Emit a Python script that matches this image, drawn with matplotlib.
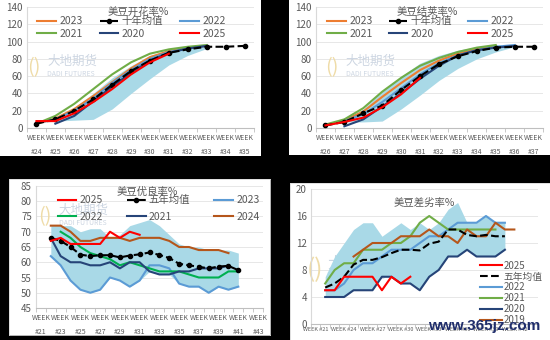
import matplotlib.pyplot as plt
import numpy as np

plt.rcParams['font.family'] = ['Noto Sans CJK SC', 'DejaVu Sans']

W, H = 550, 340

# ---- 美豆开花率% (WEEK #24 - #35)
bloom_weeks = list(range(24, 36))
bloom_2023 = [5, 11, 22, 37, 53, 69, 82, 89, 93, 95]
bloom_avg = [5, 10, 20, 33, 50, 66, 78, 87, 91, 94, 94, 95]
bloom_2022 = [6, 10, 20, 34, 52, 67, 80, 88, 92, 95]
bloom_2021 = [5, 14, 28, 45, 62, 76, 86, 91, 94, 96]
bloom_2020 = [5, 14, 31, 48, 64, 78, 87, 92, 95]      # from #25
bloom_2025 = [8, 8, 17, 30, 45, 62, 76, 86]
bloom_lo = [6, 8, 9, 10, 22, 40, 57, 73, 84, 92]
bloom_hi = [8, 12, 24, 40, 58, 72, 84, 90, 94, 96]

# ---- 美豆结荚率% (WEEK #26 - #37)
pod_weeks = list(range(26, 38))
pod_2023 = [3, 9, 19, 36, 52, 67, 78, 86, 91, 95]
pod_avg = [3, 7, 17, 26, 44, 60, 74, 83, 89, 93, 94, 94]
pod_2022 = [3, 8, 16, 30, 46, 62, 75, 84, 90, 94, 96]
pod_2021 = [4, 10, 23, 42, 58, 72, 81, 88, 93, 96]
pod_2020 = [2, 10, 25, 40, 57, 72, 84, 90, 93, 95]     # from #27
pod_2025 = [3, 7, 12, 24, 39, 58]
pod_lo = [3, 7, 7, 8, 22, 38, 55, 69, 80, 88, 94]
pod_hi = [5, 10, 22, 42, 60, 75, 84, 90, 94, 96, 96]

# ---- 美豆优良率% (WEEK #21 - #43), series start at #22
good_weeks = list(range(21, 44))
good_2025 = [67, 68, 66, 66, 66, 66, 70, 68, 70, 69]
good_avg = [68, 67, 65, 62.5, 62, 62.3, 62.3, 61.6, 62.2, 62.6,
            63.2, 62.4, 61.4, 59.5, 59, 58.5, 58, 58.6, 58.8, 57.4]
good_2023 = [62, 59, 54, 51, 50, 51, 55, 54, 52, 54,
             59, 59, 58, 53, 52, 52, 50, 52, 51, 52]
good_2022 = [70, 68, 65, 63, 62, 61, 59, 60, 59, 58,
             57, 57, 57, 56, 55, 55, 55, 57, 57]          # from #23
good_2021 = [68, 62, 60, 60, 59, 59, 60, 58, 60, 60,
             57, 56, 56, 57, 57, 58, 58, 58, 59]
good_2024 = [72, 72, 70, 67, 67, 68, 68, 68, 67, 68,
             68, 68, 67, 65, 65, 64, 64, 64, 63]
good_lo = [62, 59, 54, 51, 50, 51, 55, 54, 52, 54,
           57, 56, 56, 53, 52, 52, 50, 52, 51, 52]
good_hi = [72, 72, 72, 70, 71, 71, 68, 69, 72, 73,
           74, 72, 69, 66, 65, 65, 64, 64, 64, 63]

# ---- 美豆差劣率% (WEEK #21 - #44), series start at #22
poor_weeks = list(range(21, 45))
poor_2025 = [5, 5, 7, 7, 7, 7, 5, 7, 6, 7]
poor_avg = [5.4, 6, 7, 8.8, 9.5, 9.5, 9.9, 10.5, 11, 11,
            10.9, 11.9, 12.2, 14, 14, 13.2, 13, 13.2, 13, 13]
poor_2022 = [5, 5, 6, 8, 9, 9, 10, 11, 11, 11,
             12, 13, 13, 14, 15, 15, 15, 16, 15, 15]
poor_2021 = [6, 8, 9, 9, 11, 11, 11, 12, 12, 13,
             15, 16, 15, 14, 14, 14, 14, 14, 14]
poor_2020 = [4, 4, 4, 5, 5, 5, 7, 7, 6, 6,
             5, 7, 8, 10, 10, 11, 10, 10, 10, 11]
poor_2019 = [10, 11, 12, 12, 12, 13, 13, 13, 14, 13,
             13, 12, 14, 13, 13, 15, 14, 14]               # from #25
poor_lo = [4, 4, 4, 5, 5, 5, 7, 7, 6, 6,
           5, 7, 8, 10, 10, 11, 10, 10, 10, 11]
poor_hi = [7, 10, 12, 14, 15, 15, 13, 14, 15, 14,
           15, 14, 15, 17, 18, 15, 15, 16, 15, 15]

C_ORANGE = '#ed7d31'
C_LBLUE = '#5b9bd5'
C_GREEN = '#70ad47'
C_NAVY = '#264478'
C_RED = '#ff0000'
C_BAND = '#a9d9e7'
C_BROWN = '#b5561b'
C_GREEN2 = '#00b050'
GRAY = '#595959'


def pad(vals, start, n):
    out = np.full(n, np.nan)
    out[start:start + len(vals)] = vals
    return out


def px_axes(fig, x0, y0, x1, y1):
    return fig.add_axes([x0 / W, 1 - y1 / H, (x1 - x0) / W, (y1 - y0) / H])


def panel(fig, x0, y0, x1, y1, border=False):
    bg = px_axes(fig, x0, y0, x1, y1)
    bg.set_facecolor('white')
    bg.set_xticks([])
    bg.set_yticks([])
    for s in bg.spines.values():
        s.set_visible(border)
        s.set_color('#d9d9d9')
        s.set_linewidth(0.6)
    return bg


def style(ax, n, ylim, yticks):
    ax.set_facecolor('none')
    ax.set_xlim(-0.5, n - 0.5)
    ax.set_ylim(*ylim)
    ax.set_yticks(yticks)
    for s in ['top', 'right']:
        ax.spines[s].set_visible(False)
    ax.spines['left'].set_color('#d9d9d9')
    ax.spines['bottom'].set_color('#bfbfbf')
    ax.spines['left'].set_linewidth(0.8)
    ax.spines['bottom'].set_linewidth(0.8)
    ax.grid(axis='y', color='#e3e3e3', lw=0.6)
    ax.set_axisbelow(True)
    ax.tick_params(axis='y', length=0, labelsize=7, labelcolor=GRAY, pad=3)
    ax.tick_params(axis='x', length=0, labelcolor=GRAY, pad=4)
    ax.set_xticks(np.arange(n + 1) - 0.5, minor=True)
    ax.tick_params(axis='x', which='minor', length=3, color='#bfbfbf')


def logo(ax, x, y, size=9):
    ax.text(x, y, '大地期货', transform=ax.transAxes, fontsize=size,
            color='#cdd6e2', ha='left', va='center', zorder=1)
    ax.text(x, y - 0.1, 'DADI FUTURES', transform=ax.transAxes,
            fontsize=size * 0.55, color='#cdd6e2', ha='left', va='center', zorder=1)
    ax.text(x - 0.09, y - 0.05, '()', transform=ax.transAxes, fontsize=size * 1.6,
            color='#efdca8', ha='left', va='center', zorder=1)


def week_labels(weeks):
    return ['WEEK\n#%d' % w for w in weeks]


fig = plt.figure(figsize=(5.5, 3.4), dpi=100, facecolor='black')

# ================= 开花率
panel(fig, 0, 0, 261, 156)
ax = px_axes(fig, 27, 7, 254, 128)
n = len(bloom_weeks)
x = np.arange(n)
style(ax, n, (0, 140), range(0, 141, 20))
ax.set_xticks(x)
ax.set_xticklabels(week_labels(bloom_weeks), fontsize=5, linespacing=2.1)
logo(ax, 0.09, 0.55)
ax.fill_between(x, pad(bloom_lo, 0, n), pad(bloom_hi, 0, n), color=C_BAND, lw=0, zorder=2)
h23, = ax.plot(x, pad(bloom_2023, 0, n), color=C_ORANGE, lw=1.5, zorder=3)
h22, = ax.plot(x, pad(bloom_2022, 0, n), color=C_LBLUE, lw=1.5, zorder=3)
h21, = ax.plot(x, pad(bloom_2021, 0, n), color=C_GREEN, lw=1.5, zorder=3)
h20, = ax.plot(x, pad(bloom_2020, 1, n), color=C_NAVY, lw=1.5, zorder=4)
hav, = ax.plot(x, pad(bloom_avg, 0, n), color='black', lw=1.5, ls='--', marker='o',
               ms=3, zorder=5)
h25, = ax.plot(x, pad(bloom_2025, 0, n), color=C_RED, lw=1.5, zorder=6)
ax.text(0.49, 0.955, '美豆开花率%', transform=ax.transAxes, ha='center', va='center',
        fontsize=7.5, color=GRAY)
ax.legend([h23, h21, hav, h20, h22, h25], ['2023', '2021', '十年均值', '2020', '2022', '2025'],
          ncol=3, loc='upper left', bbox_to_anchor=(0.045, 0.0, 0.83, 0.925),
          mode='expand', frameon=False, fontsize=7.5, handlelength=1.8,
          handletextpad=0.3, labelspacing=0.25, borderpad=0, borderaxespad=0,
          labelcolor=GRAY)

# ================= 结荚率
panel(fig, 289, 0, 550, 155)
ax = px_axes(fig, 316, 7, 543, 128)
n = len(pod_weeks)
x = np.arange(n)
style(ax, n, (0, 140), range(0, 141, 20))
ax.set_xticks(x)
ax.set_xticklabels(week_labels(pod_weeks), fontsize=5, linespacing=2.1)
logo(ax, 0.13, 0.55)
ax.fill_between(x, pad(pod_lo, 0, n), pad(pod_hi, 0, n), color=C_BAND, lw=0, zorder=2)
h23, = ax.plot(x, pad(pod_2023, 0, n), color=C_ORANGE, lw=1.5, zorder=3)
h22, = ax.plot(x, pad(pod_2022, 0, n), color=C_LBLUE, lw=1.5, zorder=3)
h21, = ax.plot(x, pad(pod_2021, 0, n), color=C_GREEN, lw=1.5, zorder=3)
h20, = ax.plot(x, pad(pod_2020, 1, n), color=C_NAVY, lw=1.5, zorder=4)
hav, = ax.plot(x, pad(pod_avg, 0, n), color='black', lw=1.5, ls='--', marker='o',
               ms=3, zorder=5)
h25, = ax.plot(x, pad(pod_2025, 0, n), color=C_RED, lw=1.5, zorder=6)
ax.text(0.49, 0.955, '美豆结荚率%', transform=ax.transAxes, ha='center', va='center',
        fontsize=7.5, color=GRAY)
ax.legend([h23, h21, hav, h20, h22, h25], ['2023', '2021', '十年均值', '2020', '2022', '2025'],
          ncol=3, loc='upper left', bbox_to_anchor=(0.05, 0.0, 0.82, 0.925),
          mode='expand', frameon=False, fontsize=7.5, handlelength=1.8,
          handletextpad=0.3, labelspacing=0.25, borderpad=0, borderaxespad=0,
          labelcolor=GRAY)

# ================= 优良率
panel(fig, 9, 179, 270, 335, border=True)
ax = px_axes(fig, 36, 186, 263, 308)
n = len(good_weeks)
x = np.arange(n)
style(ax, n, (45, 85), range(45, 86, 5))
ax.set_xticks(x)
ax.set_xticklabels([('WEEK\n#%d' % w) if (w - 21) % 2 == 0 else '' for w in good_weeks],
                   fontsize=5, linespacing=2.1)
logo(ax, 0.1, 0.8)
ax.fill_between(x, pad(good_lo, 1, n), pad(good_hi, 1, n), color=C_BAND, lw=0, zorder=2)
h23, = ax.plot(x, pad(good_2023, 1, n), color=C_LBLUE, lw=1.5, zorder=3)
h22, = ax.plot(x, pad(good_2022, 2, n), color=C_GREEN2, lw=1.5, zorder=3)
h21, = ax.plot(x, pad(good_2021, 1, n), color=C_NAVY, lw=1.5, zorder=3)
h24, = ax.plot(x, pad(good_2024, 1, n), color=C_BROWN, lw=1.5, zorder=3)
hav, = ax.plot(x, pad(good_avg, 1, n), color='black', lw=1.5, ls='--', marker='o',
               ms=3, zorder=5)
h25, = ax.plot(x, pad(good_2025, 1, n), color=C_RED, lw=1.5, zorder=6)
ax.text(0.49, 0.955, '美豆优良率%', transform=ax.transAxes, ha='center', va='center',
        fontsize=7.5, color=GRAY)
ax.legend([h25, h22, hav, h21, h23, h24], ['2025', '2022', '五年均值', '2021', '2023', '2024'],
          ncol=3, loc='upper left', bbox_to_anchor=(0.095, 0.0, 0.89, 0.925),
          mode='expand', frameon=False, fontsize=7.5, handlelength=1.8,
          handletextpad=0.3, labelspacing=0.6, borderpad=0, borderaxespad=0,
          labelcolor=GRAY)

# ================= 差劣率
panel(fig, 290, 183, 550, 340, border=True)
ax = px_axes(fig, 311, 189, 538, 324)
n = len(poor_weeks)
x = np.arange(n)
style(ax, n, (0, 20), range(0, 21, 4))
ax.set_xticks(x)
ax.set_xticklabels([('WEEK #%d' % w) if (w - 21) % 3 == 0 else '' for w in poor_weeks],
                   fontsize=4)
ax.tick_params(axis='x', pad=2)
logo(ax, 0.07, 0.45, size=11)
ax.fill_between(x, pad(poor_lo, 1, n), pad(poor_hi, 1, n), color=C_BAND, lw=0, zorder=2)
h22, = ax.plot(x, pad(poor_2022, 1, n), color=C_LBLUE, lw=1.5, zorder=3)
h21, = ax.plot(x, pad(poor_2021, 1, n), color=C_GREEN, lw=1.5, zorder=3)
h19, = ax.plot(x, pad(poor_2019, 4, n), color=C_BROWN, lw=1.5, zorder=3)
h20, = ax.plot(x, pad(poor_2020, 1, n), color=C_NAVY, lw=1.5, zorder=4)
hav, = ax.plot(x, pad(poor_avg, 1, n), color='black', lw=1.5, ls='--', zorder=5)
h25, = ax.plot(x, pad(poor_2025, 1, n), color=C_RED, lw=1.5, zorder=6)
ax.text(0.5, 0.9, '美豆差劣率%', transform=ax.transAxes, ha='center', va='center',
        fontsize=7.5, color=GRAY)
ax.legend([h25, hav, h22, h21, h20, h19], ['2025', '五年均值', '2022', '2021', '2020', '2019'],
          ncol=1, loc='upper left', bbox_to_anchor=(0.745, 0.47),
          frameon=False, fontsize=7, handlelength=2.2, handletextpad=0.2,
          labelspacing=0.1, borderpad=0, borderaxespad=0, labelcolor=GRAY)

fig.text((427 + 542) / 2 / W, 1 - 326 / H, 'www.365jz.com', ha='center', va='center',
         fontsize=11, fontweight='bold', family='Liberation Sans', color='#1f2d6b', zorder=10)

fig.savefig('out.png', dpi=100, facecolor=fig.get_facecolor())
